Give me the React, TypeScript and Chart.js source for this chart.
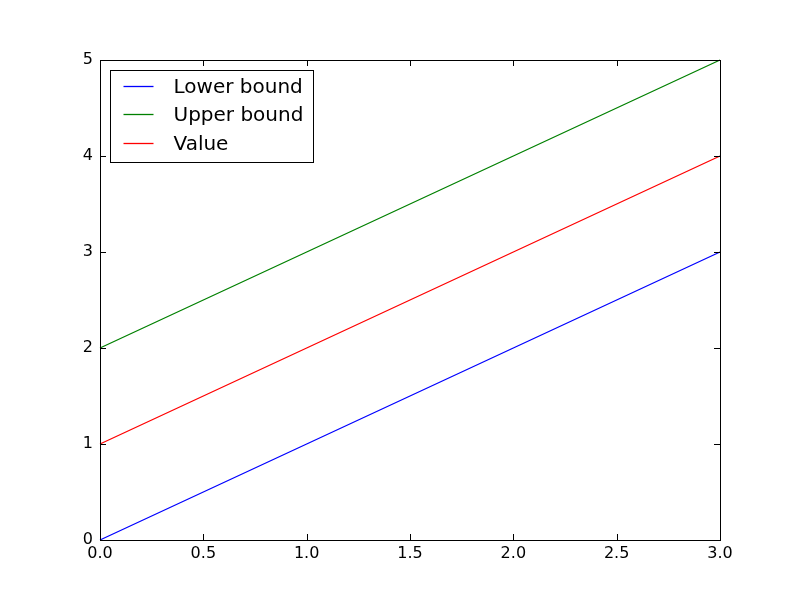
import React, { useEffect, useRef } from "react";
import { Chart, registerables } from "chart.js";

Chart.register(...registerables);

const xValues = [0, 1, 2, 3];
const lowerBound = [0, 1, 2, 3];
const upperBound = [2, 3, 4, 5];
const valueSeries = [1, 2, 3, 4];
const seriesLabels = ["Lower bound", "Upper bound", "Value"];
const seriesColors = ["#0000ff", "#008000", "#ff0000"];
const xTicks = [0, 0.5, 1, 1.5, 2, 2.5, 3];
const yTicks = [0, 1, 2, 3, 4, 5];

const FONT = "DejaVu Sans";

const framePlugin = {
  id: "frameTicks",
  afterDatasetsDraw(chart: any) {
    const { ctx, chartArea } = chart;
    const { left, right, top, bottom } = chartArea;
    const xs = chart.scales.x;
    const ys = chart.scales.y;
    ctx.save();
    ctx.strokeStyle = "#000";
    ctx.lineWidth = 1;
    const len = 6;
    ctx.beginPath();
    for (const v of xTicks) {
      const px = Math.round(xs.getPixelForValue(v)) + 0.5;
      ctx.moveTo(px, bottom);
      ctx.lineTo(px, bottom - len);
      ctx.moveTo(px, top);
      ctx.lineTo(px, top + len);
    }
    for (const v of yTicks) {
      const py = Math.round(ys.getPixelForValue(v)) + 0.5;
      ctx.moveTo(left, py);
      ctx.lineTo(left + len, py);
      ctx.moveTo(right, py);
      ctx.lineTo(right - len, py);
    }
    ctx.stroke();
    ctx.strokeRect(Math.round(left) + 0.5, Math.round(top) + 0.5, Math.round(right - left), Math.round(bottom - top));

    // legend
    const bx = left + 10.5;
    const by = top + 10.5;
    const bw = 203;
    const bh = 92;
    ctx.fillStyle = "#fff";
    ctx.fillRect(bx, by, bw, bh);
    ctx.strokeStyle = "#000";
    ctx.strokeRect(bx, by, bw, bh);
    ctx.font = `20px "${FONT}"`;
    ctx.textBaseline = "middle";
    ctx.textAlign = "left";
    chart.data.datasets.forEach((ds: any, i: number) => {
      const cy = Math.round(by + 15 + i * 28.5) + 0.5;
      ctx.strokeStyle = seriesColors[i];
      ctx.lineWidth = 1.3;
      ctx.beginPath();
      ctx.moveTo(bx + 13, cy);
      ctx.lineTo(bx + 43, cy);
      ctx.stroke();
      ctx.fillStyle = "#000";
      ctx.fillText(ds.label, bx + 63, cy + 1);
    });
    ctx.restore();
  },
};

export default function App() {
  const ref = useRef<HTMLCanvasElement>(null);
  useEffect(() => {
    document.body.style.margin = "0";
    const mk = (ys: number[]) => xValues.map((x, i) => ({ x, y: ys[i] }));
    const chart = new Chart(ref.current!, {
      type: "scatter",
      data: {
        datasets: [lowerBound, upperBound, valueSeries].map((d, i) => ({
          label: seriesLabels[i],
          data: mk(d),
          showLine: true,
          borderColor: seriesColors[i],
          backgroundColor: seriesColors[i],
          borderWidth: 1.3,
          pointRadius: 0,
          clip: false as any,
        })),
      },
      options: {
        animation: false,
        responsive: false,
        layout: { padding: { top: 60, right: 80, left: 0, bottom: 0 } },
        plugins: { legend: { display: false }, tooltip: { enabled: false } },
        scales: {
          x: {
            type: "linear",
            min: 0,
            max: 3,
            afterFit: (s: any) => { s.height = 60; },
            afterBuildTicks: (s: any) => { s.ticks = xTicks.map((v) => ({ value: v })); },
            grid: { display: false, drawTicks: false },
            border: { display: false },
            ticks: {
              padding: 4,
              color: "#000",
              font: { family: FONT, size: 16 },
              callback: (v: any) => Number(v).toFixed(1),
            },
          },
          y: {
            type: "linear",
            min: 0,
            max: 5,
            afterFit: (s: any) => { s.width = 100; },
            afterBuildTicks: (s: any) => { s.ticks = yTicks.map((v) => ({ value: v })); },
            grid: { display: false, drawTicks: false },
            border: { display: false },
            ticks: {
              padding: 7,
              color: "#000",
              font: { family: FONT, size: 16 },
              callback: (v: any) => String(v),
            },
          },
        },
      },
      plugins: [framePlugin],
    });
    return () => chart.destroy();
  }, []);
  return <canvas ref={ref} width={800} height={600} style={{ display: "block" }} />;
}
